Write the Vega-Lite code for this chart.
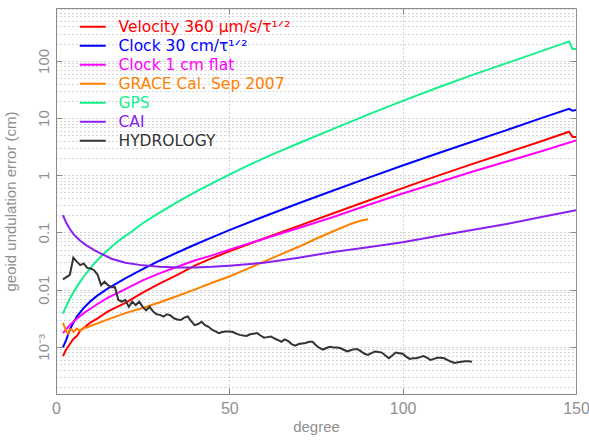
{
  "$schema": "https://vega.github.io/schema/vega-lite/v6.json",
  "autosize": {"type": "none"},
  "padding": {"left": 56, "top": 8, "right": 13, "bottom": 49},
  "width": 520,
  "height": 386,
  "background": "white",
  "config": {
    "view": {"stroke": "#8a8a8a", "strokeWidth": 1},
    "font": "Liberation Sans"
  },
  "data": {"values": [
    {"s":"gps","d":2,"v":0.0038},{"s":"gps","d":3,"v":0.00525},{"s":"gps","d":4,"v":0.00692},{"s":"gps","d":5,"v":0.00891},{"s":"gps","d":6,"v":0.0112},{"s":"gps","d":7,"v":0.0138},{"s":"gps","d":8,"v":0.017},{"s":"gps","d":10,"v":0.024},{"s":"gps","d":12,"v":0.0331},{"s":"gps","d":14,"v":0.0437},{"s":"gps","d":16,"v":0.0562},{"s":"gps","d":18,"v":0.0708},{"s":"gps","d":20,"v":0.0871},{"s":"gps","d":22,"v":0.105},{"s":"gps","d":25,"v":0.145},{"s":"gps","d":30,"v":0.224},{"s":"gps","d":35,"v":0.339},{"s":"gps","d":40,"v":0.501},{"s":"gps","d":45,"v":0.724},{"s":"gps","d":50,"v":1.023},{"s":"gps","d":55,"v":1.445},{"s":"gps","d":60,"v":1.995},{"s":"gps","d":65,"v":2.69},{"s":"gps","d":70,"v":3.63},{"s":"gps","d":80,"v":6.46},{"s":"gps","d":90,"v":11.5},{"s":"gps","d":100,"v":19.95},{"s":"gps","d":110,"v":33.9},{"s":"gps","d":120,"v":56.2},{"s":"gps","d":130,"v":91.2},{"s":"gps","d":140,"v":148},{"s":"gps","d":148,"v":219},{"s":"gps","d":149,"v":162},{"s":"gps","d":150,"v":162},
    {"s":"c30","d":2,"v":0.000977},{"s":"c30","d":3,"v":0.00135},{"s":"c30","d":4,"v":0.002},{"s":"c30","d":5,"v":0.00263},{"s":"c30","d":6,"v":0.00339},{"s":"c30","d":8,"v":0.00479},{"s":"c30","d":10,"v":0.00631},{"s":"c30","d":12,"v":0.00794},{"s":"c30","d":15,"v":0.0105},{"s":"c30","d":20,"v":0.0158},{"s":"c30","d":25,"v":0.0229},{"s":"c30","d":30,"v":0.0324},{"s":"c30","d":35,"v":0.0447},{"s":"c30","d":40,"v":0.061},{"s":"c30","d":45,"v":0.0822},{"s":"c30","d":50,"v":0.1096},{"s":"c30","d":60,"v":0.1905},{"s":"c30","d":70,"v":0.324},{"s":"c30","d":80,"v":0.543},{"s":"c30","d":90,"v":0.902},{"s":"c30","d":100,"v":1.479},{"s":"c30","d":110,"v":2.399},{"s":"c30","d":120,"v":3.846},{"s":"c30","d":130,"v":6.166},{"s":"c30","d":140,"v":10.0},{"s":"c30","d":148,"v":14.45},{"s":"c30","d":149,"v":13.5},{"s":"c30","d":150,"v":13.8},
    {"s":"vel","d":2,"v":0.000692},{"s":"vel","d":3,"v":0.000912},{"s":"vel","d":4,"v":0.00112},{"s":"vel","d":5,"v":0.00138},{"s":"vel","d":6,"v":0.00155},{"s":"vel","d":7,"v":0.00191},{"s":"vel","d":8,"v":0.00214},{"s":"vel","d":10,"v":0.00269},{"s":"vel","d":12,"v":0.00316},{"s":"vel","d":15,"v":0.00417},{"s":"vel","d":20,"v":0.00589},{"s":"vel","d":25,"v":0.00891},{"s":"vel","d":30,"v":0.0129},{"s":"vel","d":35,"v":0.0182},{"s":"vel","d":40,"v":0.0263},{"s":"vel","d":45,"v":0.0355},{"s":"vel","d":50,"v":0.0468},{"s":"vel","d":60,"v":0.0785},{"s":"vel","d":70,"v":0.1303},{"s":"vel","d":80,"v":0.2163},{"s":"vel","d":90,"v":0.3589},{"s":"vel","d":100,"v":0.5957},{"s":"vel","d":110,"v":0.977},{"s":"vel","d":120,"v":1.567},{"s":"vel","d":130,"v":2.483},{"s":"vel","d":140,"v":3.936},{"s":"vel","d":148,"v":5.754},{"s":"vel","d":149,"v":4.68},{"s":"vel","d":150,"v":4.68},
    {"s":"c1","d":2,"v":0.00174},{"s":"c1","d":3,"v":0.00204},{"s":"c1","d":4,"v":0.0024},{"s":"c1","d":6,"v":0.00309},{"s":"c1","d":8,"v":0.00389},{"s":"c1","d":10,"v":0.00468},{"s":"c1","d":12,"v":0.00562},{"s":"c1","d":15,"v":0.00724},{"s":"c1","d":20,"v":0.0102},{"s":"c1","d":25,"v":0.0145},{"s":"c1","d":30,"v":0.0195},{"s":"c1","d":35,"v":0.0251},{"s":"c1","d":40,"v":0.0324},{"s":"c1","d":45,"v":0.0398},{"s":"c1","d":50,"v":0.0501},{"s":"c1","d":60,"v":0.0776},{"s":"c1","d":70,"v":0.12},{"s":"c1","d":80,"v":0.186},{"s":"c1","d":90,"v":0.302},{"s":"c1","d":100,"v":0.479},{"s":"c1","d":110,"v":0.741},{"s":"c1","d":120,"v":1.15},{"s":"c1","d":130,"v":1.74},{"s":"c1","d":140,"v":2.63},{"s":"c1","d":150,"v":4.07},
    {"s":"grace","d":2,"v":0.00263},{"s":"grace","d":3,"v":0.00186},{"s":"grace","d":3.5,"v":0.0017},{"s":"grace","d":4,"v":0.002},{"s":"grace","d":4.5,"v":0.00204},{"s":"grace","d":5,"v":0.00182},{"s":"grace","d":6,"v":0.00209},{"s":"grace","d":7,"v":0.00191},{"s":"grace","d":8,"v":0.00219},{"s":"grace","d":9,"v":0.00219},{"s":"grace","d":10,"v":0.00234},{"s":"grace","d":12,"v":0.00257},{"s":"grace","d":15,"v":0.00302},{"s":"grace","d":20,"v":0.00389},{"s":"grace","d":25,"v":0.00479},{"s":"grace","d":30,"v":0.00603},{"s":"grace","d":35,"v":0.00776},{"s":"grace","d":40,"v":0.01},{"s":"grace","d":45,"v":0.0132},{"s":"grace","d":50,"v":0.017},{"s":"grace","d":55,"v":0.0229},{"s":"grace","d":60,"v":0.0309},{"s":"grace","d":65,"v":0.0417},{"s":"grace","d":70,"v":0.0562},{"s":"grace","d":75,"v":0.0776},{"s":"grace","d":80,"v":0.105},{"s":"grace","d":85,"v":0.141},{"s":"grace","d":88,"v":0.162},{"s":"grace","d":90,"v":0.17},
    {"s":"cai","d":2,"v":0.2},{"s":"cai","d":3,"v":0.146},{"s":"cai","d":4,"v":0.115},{"s":"cai","d":5,"v":0.0944},{"s":"cai","d":6,"v":0.0813},{"s":"cai","d":7,"v":0.0716},{"s":"cai","d":8,"v":0.0646},{"s":"cai","d":9,"v":0.0582},{"s":"cai","d":10,"v":0.0537},{"s":"cai","d":11,"v":0.049},{"s":"cai","d":13,"v":0.0427},{"s":"cai","d":16,"v":0.0347},{"s":"cai","d":20,"v":0.0295},{"s":"cai","d":25,"v":0.0266},{"s":"cai","d":30,"v":0.0251},{"s":"cai","d":35,"v":0.0245},{"s":"cai","d":40,"v":0.0245},{"s":"cai","d":45,"v":0.0251},{"s":"cai","d":50,"v":0.0263},{"s":"cai","d":60,"v":0.0295},{"s":"cai","d":70,"v":0.0363},{"s":"cai","d":80,"v":0.0457},{"s":"cai","d":90,"v":0.055},{"s":"cai","d":100,"v":0.0676},{"s":"cai","d":110,"v":0.0871},{"s":"cai","d":120,"v":0.11},{"s":"cai","d":130,"v":0.141},{"s":"cai","d":140,"v":0.186},{"s":"cai","d":150,"v":0.245},
    {"s":"hyd","d":2,"v":0.0151},{"s":"hyd","d":3,"v":0.0166},{"s":"hyd","d":4,"v":0.0182},{"s":"hyd","d":5,"v":0.0363},{"s":"hyd","d":6,"v":0.0309},{"s":"hyd","d":7,"v":0.0269},{"s":"hyd","d":8,"v":0.0288},{"s":"hyd","d":9,"v":0.024},{"s":"hyd","d":10,"v":0.0234},{"s":"hyd","d":11,"v":0.0219},{"s":"hyd","d":12,"v":0.0182},{"s":"hyd","d":13,"v":0.012},{"s":"hyd","d":14,"v":0.0138},{"s":"hyd","d":15,"v":0.012},{"s":"hyd","d":16,"v":0.011},{"s":"hyd","d":17,"v":0.011},{"s":"hyd","d":18,"v":0.00661},{"s":"hyd","d":19,"v":0.00617},{"s":"hyd","d":20,"v":0.00661},{"s":"hyd","d":21,"v":0.00501},{"s":"hyd","d":22,"v":0.00617},{"s":"hyd","d":23,"v":0.00537},{"s":"hyd","d":24,"v":0.00617},{"s":"hyd","d":25,"v":0.00501},{"s":"hyd","d":26,"v":0.00437},{"s":"hyd","d":27,"v":0.00501},{"s":"hyd","d":28,"v":0.00417},{"s":"hyd","d":29,"v":0.00372},{"s":"hyd","d":30,"v":0.00363},{"s":"hyd","d":31,"v":0.00339},{"s":"hyd","d":32,"v":0.00372},{"s":"hyd","d":33,"v":0.00355},{"s":"hyd","d":34,"v":0.00316},{"s":"hyd","d":35,"v":0.00302},{"s":"hyd","d":36,"v":0.00295},{"s":"hyd","d":37,"v":0.00324},{"s":"hyd","d":38,"v":0.00339},{"s":"hyd","d":39,"v":0.00282},{"s":"hyd","d":40,"v":0.0024},{"s":"hyd","d":41,"v":0.00251},{"s":"hyd","d":42,"v":0.00275},{"s":"hyd","d":43,"v":0.0024},{"s":"hyd","d":44,"v":0.00224},{"s":"hyd","d":45,"v":0.002},{"s":"hyd","d":46,"v":0.00186},{"s":"hyd","d":47,"v":0.00174},{"s":"hyd","d":48,"v":0.00182},{"s":"hyd","d":49,"v":0.00186},{"s":"hyd","d":50,"v":0.00186},{"s":"hyd","d":51,"v":0.00182},{"s":"hyd","d":52,"v":0.0017},{"s":"hyd","d":53,"v":0.00162},{"s":"hyd","d":54,"v":0.00158},{"s":"hyd","d":55,"v":0.00155},{"s":"hyd","d":56,"v":0.00166},{"s":"hyd","d":57,"v":0.0017},{"s":"hyd","d":58,"v":0.00174},{"s":"hyd","d":59,"v":0.00158},{"s":"hyd","d":60,"v":0.00145},{"s":"hyd","d":61,"v":0.00148},{"s":"hyd","d":62,"v":0.00151},{"s":"hyd","d":63,"v":0.00141},{"s":"hyd","d":64,"v":0.00132},{"s":"hyd","d":65,"v":0.00123},{"s":"hyd","d":66,"v":0.00135},{"s":"hyd","d":67,"v":0.00126},{"s":"hyd","d":68,"v":0.00112},{"s":"hyd","d":69,"v":0.00105},{"s":"hyd","d":70,"v":0.00112},{"s":"hyd","d":71,"v":0.00115},{"s":"hyd","d":72,"v":0.00117},{"s":"hyd","d":73,"v":0.00123},{"s":"hyd","d":74,"v":0.00123},{"s":"hyd","d":75,"v":0.00107},{"s":"hyd","d":76,"v":0.000955},{"s":"hyd","d":77,"v":0.000891},{"s":"hyd","d":78,"v":0.000955},{"s":"hyd","d":79,"v":0.001},{"s":"hyd","d":80,"v":0.000977},{"s":"hyd","d":81,"v":0.000977},{"s":"hyd","d":82,"v":0.000955},{"s":"hyd","d":83,"v":0.000891},{"s":"hyd","d":84,"v":0.000832},{"s":"hyd","d":85,"v":0.000871},{"s":"hyd","d":86,"v":0.000912},{"s":"hyd","d":87,"v":0.000912},{"s":"hyd","d":88,"v":0.000832},{"s":"hyd","d":89,"v":0.000759},{"s":"hyd","d":90,"v":0.000724},{"s":"hyd","d":91,"v":0.000776},{"s":"hyd","d":92,"v":0.000832},{"s":"hyd","d":93,"v":0.000813},{"s":"hyd","d":94,"v":0.000794},{"s":"hyd","d":95,"v":0.000708},{"s":"hyd","d":96,"v":0.000631},{"s":"hyd","d":97,"v":0.000708},{"s":"hyd","d":98,"v":0.000794},{"s":"hyd","d":99,"v":0.000776},{"s":"hyd","d":100,"v":0.000759},{"s":"hyd","d":101,"v":0.000676},{"s":"hyd","d":102,"v":0.000617},{"s":"hyd","d":103,"v":0.000631},{"s":"hyd","d":104,"v":0.000631},{"s":"hyd","d":105,"v":0.000661},{"s":"hyd","d":106,"v":0.000692},{"s":"hyd","d":107,"v":0.000646},{"s":"hyd","d":108,"v":0.000589},{"s":"hyd","d":109,"v":0.000617},{"s":"hyd","d":110,"v":0.000646},{"s":"hyd","d":111,"v":0.000646},{"s":"hyd","d":112,"v":0.000631},{"s":"hyd","d":113,"v":0.000589},{"s":"hyd","d":114,"v":0.00055},{"s":"hyd","d":115,"v":0.000525},{"s":"hyd","d":116,"v":0.000537},{"s":"hyd","d":117,"v":0.00055},{"s":"hyd","d":118,"v":0.000562},{"s":"hyd","d":119,"v":0.000562},{"s":"hyd","d":120,"v":0.00055}
  ]},
  "layer": [
    {
      "mark": {"type": "line", "strokeWidth": 2, "clip": true},
      "encoding": {
        "x": {
          "field": "d", "type": "quantitative",
          "scale": {"domain": [0, 150], "nice": false, "zero": false},
          "axis": {
            "title": "degree", "values": [0, 50, 100, 150],
            "grid": true, "gridDash": [1, 3], "gridColor": "#a8a8a8", "gridWidth": 1,
            "domainColor": "#8a8a8a", "tickColor": "#8a8a8a", "tickSize": -6,
            "labelFontSize": 16, "labelColor": "#909090", "labelPadding": 12, "labelFont": "Liberation Sans",
            "labelFlush": false,
            "titleFontSize": 15, "titleColor": "#909090", "titleFontWeight": "normal", "titlePadding": 3, "titleFont": "Liberation Sans"
          }
        },
        "y": {
          "field": "v", "type": "quantitative",
          "scale": {"type": "log", "domain": [0.00015, 840], "nice": false},
          "axis": {
            "title": "geoid undulation error (cm)",
            "values": [0.0002,0.0003,0.0004,0.0005,0.0006,0.0007,0.0008,0.0009,0.001,0.002,0.003,0.004,0.005,0.006,0.007,0.008,0.009,0.01,0.02,0.03,0.04,0.05,0.06,0.07,0.08,0.09,0.1,0.2,0.3,0.4,0.5,0.6,0.7,0.8,0.9,1,2,3,4,5,6,7,8,9,10,20,30,40,50,60,70,80,90,100,200,300,400,500,600,700,800],
            "labelExpr": "datum.value == 100 ? '100' : datum.value == 10 ? '10' : datum.value == 1 ? '1' : datum.value == 0.1 ? '0.1' : datum.value == 0.01 ? '0.01' : datum.value == 0.001 ? '10⁻³' : ''",
            "labelAngle": 270, "labelOverlap": false, "labelFlush": false, "labelBound": false,
            "grid": true, "gridDash": [1, 3], "gridColor": "#a8a8a8", "gridWidth": 1,
            "domainColor": "#8a8a8a", "tickColor": "#8a8a8a",
            "tickSize": {"condition": {"test": "datum.value == 100 || datum.value == 10 || datum.value == 1 || datum.value == 0.1 || datum.value == 0.01 || datum.value == 0.001", "value": -6}, "value": 0},
            "labelFontSize": 15, "labelColor": "#909090", "labelPadding": 11, "labelFont": "Liberation Sans",
            "titleFontSize": 15, "titleColor": "#909090", "titleFontWeight": "normal", "titlePadding": 12, "titleFont": "Liberation Sans"
          }
        },
        "color": {
          "field": "s", "type": "nominal",
          "scale": {
            "domain": ["vel", "c30", "c1", "grace", "gps", "cai", "hyd"],
            "range": ["#ff0000", "#0000ff", "#ff00ff", "#ff8000", "#14f08c", "#8a20f0", "#333333"]
          },
          "legend": {
            "orient": "none", "legendX": 29, "legendY": 11, "title": null, "padding": 0,
            "symbolType": "M-2.6,0H2.6", "symbolSize": 100, "symbolStrokeWidth": 2,
            "labelFontSize": 15.5, "labelFont": "DejaVu Sans", "labelOffset": 18, "rowPadding": 2,
            "labelLimit": 400,
            "labelExpr": "datum.value == 'vel' ? 'Velocity 360 μm/s/τ¹ᐟ²' : datum.value == 'c30' ? 'Clock 30 cm/τ¹ᐟ²' : datum.value == 'c1' ? 'Clock 1 cm flat' : datum.value == 'grace' ? 'GRACE Cal. Sep 2007' : datum.value == 'gps' ? 'GPS' : datum.value == 'cai' ? 'CAI' : 'HYDROLOGY'",
            "encode": {"labels": {"update": {"fill": {"scale": "color", "field": "value"}}}}
          }
        }
      }
    },
    {
      "mark": {"type": "line", "opacity": 0, "clip": true},
      "encoding": {
        "x": {
          "field": "d", "type": "quantitative",
          "scale": {"domain": [0, 150], "nice": false, "zero": false},
          "axis": {"orient": "top", "title": null, "values": [50, 100], "labels": false, "grid": false, "domain": false, "tickColor": "#8a8a8a", "tickSize": -6}
        },
        "y": {
          "field": "v", "type": "quantitative",
          "scale": {"type": "log", "domain": [0.00015, 840], "nice": false},
          "axis": {"orient": "right", "title": null, "values": [0.001, 0.01, 0.1, 1, 10, 100], "labels": false, "grid": false, "domain": false, "tickColor": "#8a8a8a", "tickSize": -6}
        },
        "detail": {"field": "s", "type": "nominal"}
      }
    }
  ],
  "resolve": {"axis": {"x": "independent", "y": "independent"}}
}
